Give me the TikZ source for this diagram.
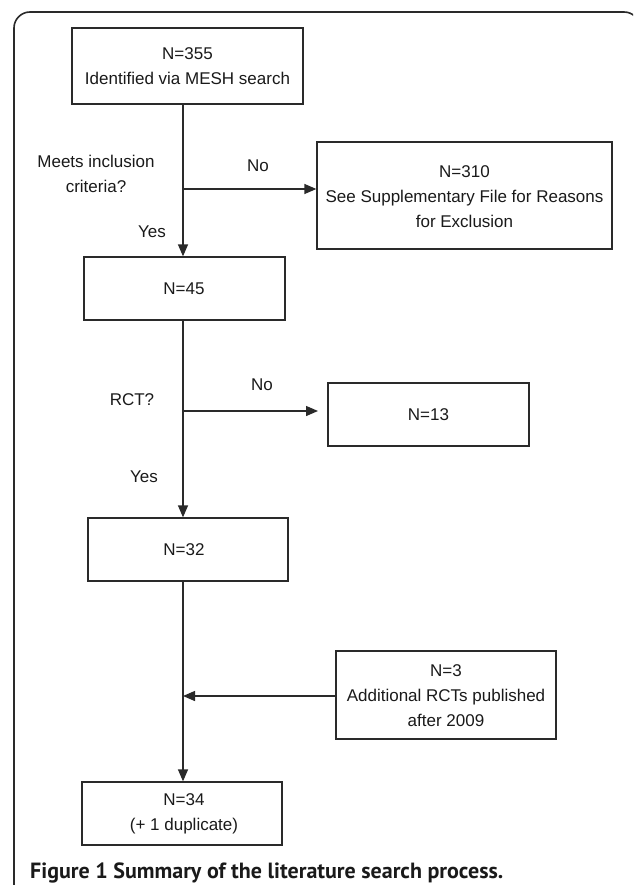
\documentclass[tikz,border=0pt]{standalone}
\usepackage{fontspec}
\setmainfont{Liberation Sans}
\newfontfamily\capfont{PT Sans}
\usetikzlibrary{arrows.meta}
\definecolor{ln}{HTML}{2a2a2a}
\definecolor{tx}{HTML}{1a1a1a}
\tikzset{
  boxst/.style={draw=ln, line width=1.3pt, rectangle, inner sep=0pt},
  lbl/.style={text=tx, font=\fontsize{17}{25}\selectfont, align=center, inner sep=0pt},
  arr/.style={draw=ln, line width=1.3pt, -{Triangle[length=12pt,width=10pt]}},
}
\begin{document}
\begin{tikzpicture}[x=1pt,y=-1pt]
\useasboundingbox (0,0) rectangle (633,885);
\fill[white] (0,0) rectangle (633,885);
% frame
\begin{scope}
\clip (0,0) rectangle (633,885);
\draw[ln, line width=1.6pt, rounded corners=16pt] (14,900) -- (14,12) -- (640,12) -- (640,900);
\end{scope}
% boxes
\node[boxst, minimum width=231pt, minimum height=76pt] (b1) at (187.5,66) {};
\node[lbl] (t1) at (187.5,66) {N=355\\Identified via MESH search};
\node[boxst, minimum width=295pt, minimum height=107pt] (b2) at (464.5,195.5) {};
\node[lbl] (t2) at (464.5,197) {N=310\\See Supplementary File for Reasons\\for Exclusion};
\node[boxst, minimum width=201pt, minimum height=63pt] (b3) at (184.5,288.5) {};
\node[lbl] (t3) at (184,289) {N=45};
\node[boxst, minimum width=201pt, minimum height=63pt] (b4) at (428.5,414.5) {};
\node[lbl] (t4) at (428.5,415) {N=13};
\node[boxst, minimum width=200pt, minimum height=63pt] (b5) at (188,549.5) {};
\node[lbl] (t5) at (184,550) {N=32};
\node[boxst, minimum width=220pt, minimum height=88pt] (b6) at (446,695) {};
\node[lbl] (t6) at (446,696) {N=3\\Additional RCTs published\\after 2009};
\node[boxst, minimum width=200pt, minimum height=63pt] (b7) at (182,813.5) {};
\node[lbl] (t7) at (184,814) {N=34\\(+ 1 duplicate)};
% branch points
\coordinate (j1) at (183,189);
\coordinate (j2) at (183,411);
\coordinate (j3) at (183,696);
% connectors
\draw[arr] (b1.south -| j1) -- (b3.north -| j1);
\draw[arr] (j1) -- (j1 -| b2.west);
\draw[arr] (b3.south -| j2) -- (b5.north -| j2);
\draw[arr] (j2) -- ++(135,0) coordinate (e2);
\draw[arr] (b5.south -| j3) -- (b7.north -| j3);
\draw[arr] (j3 -| b6.west) -- (j3);
% labels
\node[lbl] (q1) at (96,174) {Meets inclusion\\criteria?};
\node[lbl] (n1) at (258,166) {No};
\node[lbl] (y1) at (152,232) {Yes};
\node[lbl] (q2) at (132,400) {RCT?};
\node[lbl] (n2) at (262,385) {No};
\node[lbl] (y2) at (144,477) {Yes};
% caption
\node[anchor=base west, inner sep=0pt, text=tx, font=\capfont\bfseries\fontsize{22}{24}\selectfont] (cap) at (30,878) {Figure 1 Summary of the literature search process.};
\end{tikzpicture}
\end{document}
